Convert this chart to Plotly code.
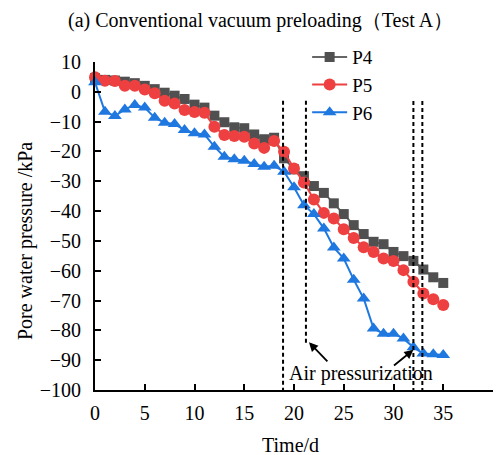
import plotly.graph_objects as go

days = list(range(36))
p4 = [4.6, 4.0, 3.8, 3.4, 2.9, 2.0, 0.9, -0.3, -1.3, -2.4, -4.3, -5.3, -8.0, -10.2, -11.9, -12.2,
      -14.3, -15.9, -15.4, -22.3, -26.0, -28.3, -31.6, -33.9, -37.4, -41.0, -44.7, -47.7, -50.3,
      -51.1, -53.7, -55.1, -56.7, -59.6, -62.2, -64.1]
p5 = [4.9, 3.7, 3.6, 2.0, 2.0, 0.8, -0.5, -3.0, -3.9, -6.1, -6.8, -7.0, -11.7, -14.5, -14.8, -15.1,
      -17.3, -18.8, -16.5, -20.1, -25.7, -30.4, -36.1, -40.6, -42.5, -46.1, -49.0, -52.1, -53.7,
      -55.9, -56.7, -59.8, -63.7, -67.6, -69.6, -71.5]
p6 = [3.2, -6.7, -8.1, -5.9, -4.4, -5.3, -8.7, -10.4, -10.8, -12.8, -13.9, -14.3, -18.4, -21.8,
      -22.6, -23.1, -24.2, -25.1, -24.8, -26.8, -32.0, -38.0, -41.0, -45.8, -52.2, -55.9, -63.0,
      -69.3, -79.4, -81.1, -81.1, -82.7, -85.7, -87.8, -88.0, -88.3]

event_days = [18.9, 21.2, 32.0, 32.9]
event_top = [-3.0, -3.0, -3.1, -3.1]
event_bottom = [-100, -85, -100, -100]

x_ticks = [0, 5, 10, 15, 20, 25, 30, 35, 40]
y_ticks = [10, 0, -10, -20, -30, -40, -50, -60, -70, -80, -90, -100]

FONT = "Liberation Serif"
FS = 20

fig = go.Figure()
series = [
    ("P4", p4, "#505050", "#666666", "square", 10),
    ("P5", p5, "#EE4040", "#EE4040", "circle", 12),
    ("P6", p6, "#1F77E0", "#1F77E0", "triangle-up", 12),
]
for name, vals, mc, lc, sym, sz in series:
    fig.add_trace(go.Scatter(
        x=days, y=vals, name=name, mode="lines+markers",
        line=dict(color=lc, width=2),
        marker=dict(color=mc, symbol=sym, size=sz),
        cliponaxis=False,
    ))

for d, t, b in zip(event_days, event_top, event_bottom):
    fig.add_trace(go.Scatter(
        x=[d, d], y=[t, b], mode="lines", showlegend=False, hoverinfo="skip",
        line=dict(color="black", width=2, dash="4px,3px"),
    ))

annotations = [
    dict(text="(a) Conventional vacuum preloading（Test A）", xref="paper", yref="paper",
         x=0.415, y=1.128, xanchor="center", yanchor="middle", showarrow=False,
         font=dict(family=FONT, size=FS, color="black")),
    dict(text="Pore water pressure /kPa", xref="paper", yref="paper",
         x=-0.176, y=0.454, xanchor="center", yanchor="middle", textangle=-90, showarrow=False,
         font=dict(family=FONT, size=FS, color="black")),
    dict(text="Time/d", xref="paper", yref="paper", x=0.492, y=-0.168,
         xanchor="center", yanchor="middle", showarrow=False,
         font=dict(family=FONT, size=FS, color="black")),
    dict(text="Air pressurization", xref="x", yref="y", x=26.7, y=-94.5,
         xanchor="center", yanchor="middle", showarrow=False,
         font=dict(family=FONT, size=FS, color="black")),
    dict(text="", xref="x", yref="y", x=21.5, y=-84.0, ax=23.5, ay=-90.9,
         axref="x", ayref="y", showarrow=True, arrowhead=2, arrowsize=1, arrowwidth=1.8,
         arrowcolor="black"),
    dict(text="", xref="x", yref="y", x=32.0, y=-86.5, ax=29.9, ay=-92.2,
         axref="x", ayref="y", showarrow=True, arrowhead=2, arrowsize=1, arrowwidth=1.8,
         arrowcolor="black"),
]

axis_common = dict(
    showline=True, linecolor="black", linewidth=2, showgrid=False, zeroline=False,
    ticks="inside", ticklen=6, tickwidth=2, tickcolor="black",
    tickfont=dict(family=FONT, size=FS, color="black"),
)

fig.update_layout(
    width=501, height=455,
    margin=dict(l=95, r=8, t=62, b=65),
    paper_bgcolor="white", plot_bgcolor="white",
    font=dict(family=FONT, size=FS, color="black"),
    xaxis=dict(range=[0, 40], tickvals=x_ticks, ticklabelstandoff=4, **axis_common),
    yaxis=dict(range=[-100, 10], tickvals=y_ticks, ticklabelstandoff=8, **axis_common),
    legend=dict(x=0.533, y=1.073, xanchor="left", yanchor="top", bgcolor="rgba(0,0,0,0)",
                itemwidth=35,
                font=dict(family=FONT, size=19, color="black"), tracegroupgap=0),
    annotations=annotations,
    showlegend=True,
)

fig.write_html("out.html")
